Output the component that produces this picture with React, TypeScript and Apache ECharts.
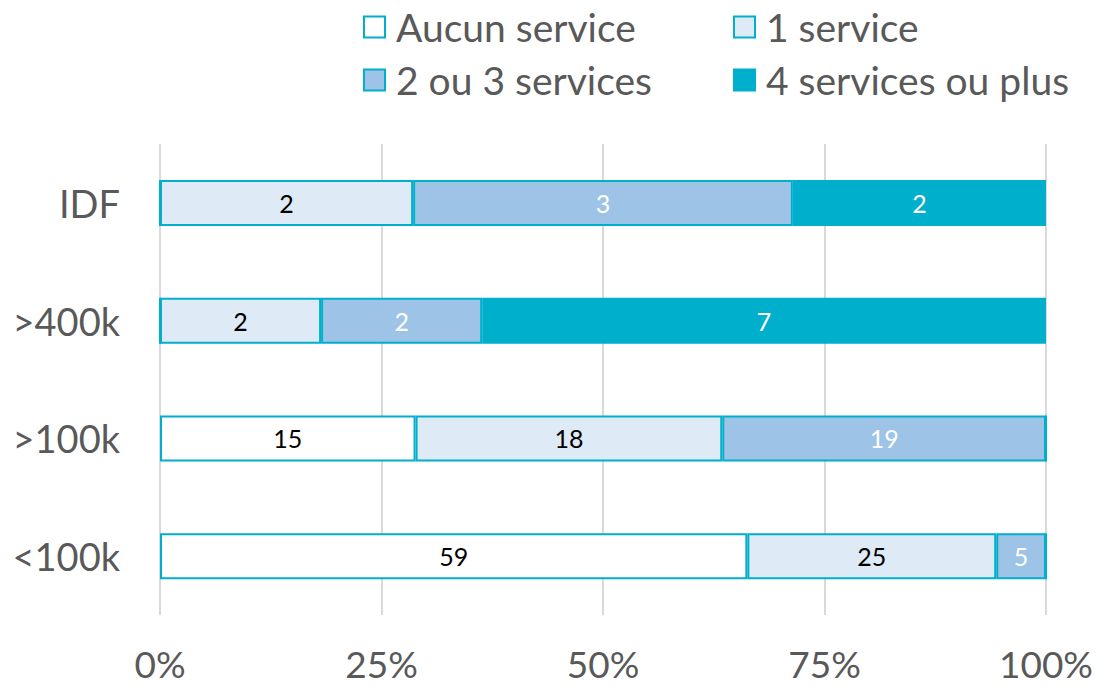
import React, { useEffect, useRef } from "react";
import * as echarts from "echarts";

const categories = ["IDF", ">400k", ">100k", "<100k"];
const seriesNames = ["Aucun service", "1 service", "2 ou 3 services", "4 services ou plus"];
const aucun = [0, 0, 15, 59];
const unService = [2, 2, 18, 25];
const deuxTrois = [3, 2, 19, 5];
const quatrePlus = [2, 7, 0, 0];
const xTicks = [0, 25, 50, 75, 100];

const counts = [aucun, unService, deuxTrois, quatrePlus];
const fills = ["#FFFFFF", "#DEEAF6", "#9DC3E6", "#00AFCB"];
const labelColors = ["#000000", "#000000", "#FFFFFF", "#FFFFFF"];
const BORDER = "#00AFCB";
const TEXT = "#595959";
const FONT = "Lato, 'Liberation Sans', sans-serif";

export default function App() {
  const ref = useRef<HTMLDivElement>(null);
  useEffect(() => {
    if (!ref.current) return;
    const chart = echarts.init(ref.current, undefined, { renderer: "svg" });
    const totals = categories.map((_, i) => counts.reduce((s, arr) => s + arr[i], 0));
    const legendCommon = {
      orient: "vertical" as const,
      top: 5,
      itemWidth: 21,
      itemHeight: 21,
      itemGap: 9,
      icon: "rect",
      textStyle: { fontSize: 39, color: TEXT, fontFamily: FONT, lineHeight: 44, padding: [0, 0, 0, 6] },
      padding: 0,
    };
    chart.setOption({
      animation: false,
      backgroundColor: "#FFFFFF",
      textStyle: { fontFamily: FONT },
      legend: [
        { ...legendCommon, left: 363, data: [seriesNames[0], seriesNames[2]] },
        { ...legendCommon, left: 733, data: [seriesNames[1], seriesNames[3]] },
      ],
      grid: { left: 160, right: 53, top: 144, bottom: 71, containLabel: false },
      xAxis: {
        type: "value",
        min: xTicks[0],
        max: xTicks[xTicks.length - 1],
        interval: 25,
        axisLine: { show: false },
        axisTick: { show: false },
        splitLine: { show: true, lineStyle: { color: "#D9D9D9", width: 2 } },
        axisLabel: {
          formatter: "{value}%",
          fontSize: 37,
          color: TEXT,
          fontFamily: FONT,
          margin: 30,
        },
      },
      yAxis: {
        type: "category",
        data: categories,
        inverse: true,
        axisLine: { show: false },
        axisTick: { show: false },
        axisLabel: { fontSize: 38, color: TEXT, fontFamily: FONT, margin: 40 },
      },
      series: seriesNames.map((name, si) => ({
        name,
        type: "bar",
        stack: "total",
        barWidth: 46,
        itemStyle: { color: fills[si], borderColor: BORDER, borderWidth: 2 },
        label: {
          show: true,
          position: "inside",
          fontSize: 25,
          fontFamily: FONT,
          color: labelColors[si],
          formatter: (p: any) => {
            const c = counts[si][p.dataIndex];
            return c > 0 ? String(c) : "";
          },
        },
        emphasis: { disabled: true },
        data: counts[si].map((c, i) => (c / totals[i]) * 100),
      })),
    });
    return () => chart.dispose();
  }, []);
  return <div ref={ref} style={{ width: 1099, height: 686, position: "absolute", left: 0, top: 0 }} />;
}
